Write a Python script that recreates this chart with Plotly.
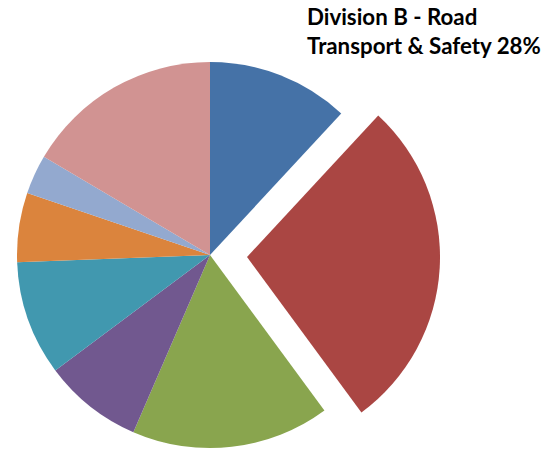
import plotly.graph_objects as go

# ---- data ----
labels = ["Division A", "Division B - Road Transport & Safety", "Division C",
          "Division D", "Division E", "Division F", "Division G", "Division H"]
values = [11.9, 28.0, 16.6, 8.3, 9.6, 5.8, 3.3, 16.5]
colors = ["#4572A7", "#AA4643", "#89A54E", "#71588F", "#4198AF", "#DB843D", "#93A9CF", "#D19392"]
exploded = 1  # index of the exploded slice

W, H = 558, 450
R = 193                # pie radius in px
CX, CY = 210, 255      # pie centre in px
DX, DY = 37, 2         # explode offset in px

def dom(cx, cy):
    return dict(x=[(cx - R) / W, (cx + R) / W],
                y=[max(0, (H - cy - R) / H), min(1, (H - cy + R) / H)])

clear = "rgba(0,0,0,0)"
colA = [clear if i == exploded else c for i, c in enumerate(colors)]
colB = [c if i == exploded else clear for i, c in enumerate(colors)]

fig = go.Figure()
fig.add_trace(go.Pie(labels=labels, values=values, sort=False, direction="clockwise",
                     rotation=0, textinfo="none", marker=dict(colors=colA, line=dict(width=0)),
                     domain=dom(CX, CY), showlegend=False))
fig.add_trace(go.Pie(labels=labels, values=values, sort=False, direction="clockwise",
                     rotation=0, textinfo="none", marker=dict(colors=colB, line=dict(width=0)),
                     domain=dom(CX + DX, CY + DY), showlegend=False))

name = labels[exploded]
label_text = name.replace(" Transport", "<br>Transport") + f" {values[exploded]:.0f}%"
fig.add_annotation(text=label_text, xref="paper", yref="paper", x=305 / W, y=1 - 1 / H,
                   xanchor="left", yanchor="top", align="left", showarrow=False,
                   font=dict(family="Lato", size=22.3, color="#000000", weight="bold"))

fig.update_layout(width=W, height=H, margin=dict(l=0, r=0, t=0, b=0),
                  paper_bgcolor="white", plot_bgcolor="white")
fig.write_html("out.html")
